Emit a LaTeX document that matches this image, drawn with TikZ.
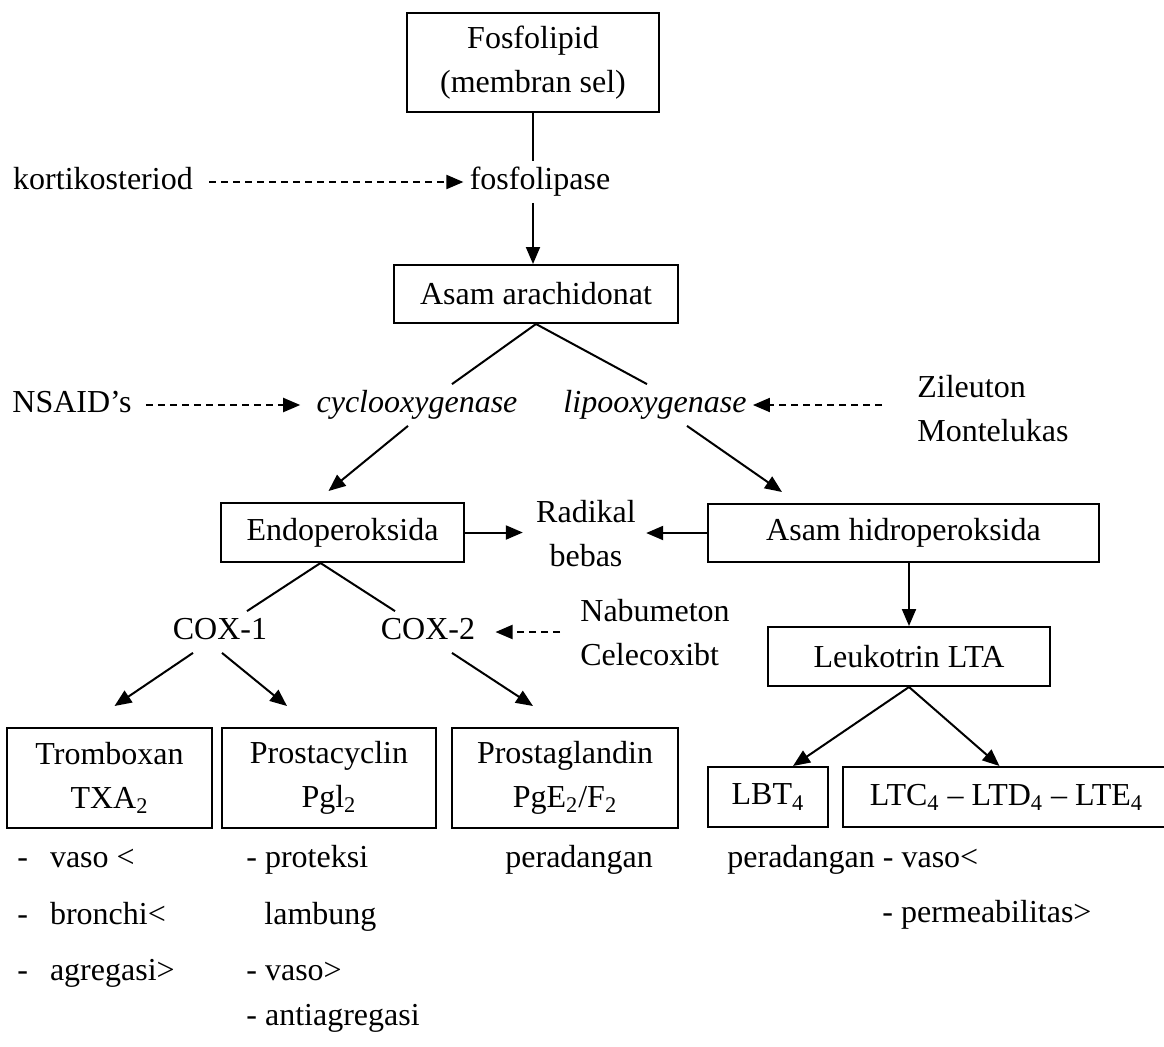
\documentclass[tikz,border=0pt]{standalone}
\usepackage{fontspec}
\setmainfont{Liberation Serif}
\usetikzlibrary{arrows.meta}

\tikzset{
  box/.style={draw, line width=1pt, inner sep=0pt, align=center},
  txt/.style={inner sep=3pt, text height=11pt, text depth=3.5pt},
  lines/.style={inner sep=3pt, align=left},
  note/.style={anchor=west, inner sep=0pt, text height=11pt, text depth=3.5pt},
  link/.style={line width=1pt},
  arr/.style={link, -{Triangle[length=8.5pt,width=7pt]}},
  inhib/.style={arr, dash pattern=on 3.5pt off 2.5pt},
}

\begin{document}
\begin{tikzpicture}[x=0.5pt, y=-0.5pt, font=\fontsize{16}{22}\selectfont]
    \useasboundingbox (0,0) rectangle (1164,1046);

    % Fosfolipid -> Asam arachidonat
    \node[box, minimum width=126pt, minimum height=49.5pt] (fosfo) at (533,62.5) {Fosfolipid\\(membran sel)};
    \node[txt] (lipase) at (540,182) {fosfolipase};
    \node[txt] (korti) at (103,182) {kortikosteriod};
    \node[box, minimum width=142pt, minimum height=29pt] (arach) at (536,294) {Asam arachidonat};
    \draw[link] (fosfo.south) -- (fosfo.south |- lipase.north);
    \draw[arr] (fosfo.south |- lipase.south) -- (fosfo.south |- arach.north);
    \draw[inhib, shorten <=5pt] (korti) -- (lipase);

    % enzymes
    \node[txt] (nsaid) at (72,405) {NSAID’s};
    \node[txt] (cyclo) at (417,405) {\itshape cyclooxygenase};
    \node[txt] (lipo) at (655,405) {\itshape lipooxygenase};
    \node[lines, anchor=west] (zil) at (911,409) {Zileuton\\Montelukas};
    \draw[link] (arach.south) -- ([xshift=17.5pt]cyclo.north);
    \draw[link] (arach.south) -- ([xshift=-4pt]lipo.north);
    \draw[inhib, shorten <=4pt, shorten >=5pt] (nsaid) -- (cyclo);
    \draw[inhib, shorten <=14.5pt] (zil.west |- lipo.east) -- (lipo.east);

    % Endoperoksida / Asam hidroperoksida
    \node[box, minimum width=121.5pt, minimum height=29.5pt] (endo) at (342.5,532.5) {Endoperoksida};
    \node[box, minimum width=195.5pt, minimum height=29pt] (hidro) at (903.5,533) {Asam hidroperoksida};
    \node[lines, align=center] (radikal) at (586,534) {Radikal\\bebas};
    \draw[arr] ([xshift=-4.5pt]cyclo.south) -- ([xshift=-7pt,yshift=5.5pt]endo.north);
    \draw[arr] ([xshift=16pt]lipo.south) -- ([xshift=37.5pt,yshift=5.5pt]hidro.north west);
    \draw[arr, shorten >=3.5pt] (endo.east) -- (endo.east -| radikal.west);
    \draw[arr, shorten >=2pt] (hidro.west) -- (hidro.west -| radikal.east);

    % COX and leukotrin
    \node[txt] (cox1) at (220,632) {COX-1};
    \node[txt] (cox2) at (428,632) {COX-2};
    \node[lines, anchor=west] (nabu) at (574,633) {Nabumeton\\Celecoxibt};
    \node[box, minimum width=141pt, minimum height=29.5pt] (leuko) at (909,656.5) {Leukotrin LTA};
    \draw[link] ([xshift=-11pt]endo.south) -- ([xshift=13.5pt]cox1.north);
    \draw[link] ([xshift=-11pt]endo.south) -- ([xshift=-16.5pt]cox2.north);
    \draw[inhib, shorten <=7pt, shorten >=7pt] (nabu.west |- cox2.east) -- (cox2.east);
    \draw[arr] (leuko.north |- hidro.south) -- (leuko.north);

    % products
    \node[box, minimum width=102.5pt, minimum height=50pt] (tromb) at (109.5,778) {Tromboxan\\TXA\textsubscript{2}};
    \node[box, minimum width=107pt, minimum height=50pt] (prosta) at (329,778) {Prostacyclin\\Pgl\textsubscript{2}};
    \node[box, minimum width=113pt, minimum height=50pt] (glandin) at (565,778) {Prostaglandin\\PgE\textsubscript{2}/F\textsubscript{2}};
    \node[box, minimum width=60pt, minimum height=30pt] (lbt) at (768,797) {LBT\textsubscript{4}};
    \node[box, minimum width=163.5pt, minimum height=30pt] (ltc) at (1006.5,797) {LTC\textsubscript{4} -- LTD\textsubscript{4} -- LTE\textsubscript{4}};
    \draw[arr] ([xshift=-13.5pt]cox1.south) -- ([xshift=2.5pt,yshift=10.5pt]tromb.north);
    \draw[arr] ([xshift=1pt]cox1.south) -- ([xshift=-21pt,yshift=10.5pt]prosta.north);
    \draw[arr] ([xshift=12pt]cox2.south) -- ([xshift=-16pt,yshift=10.5pt]glandin.north);
    \draw[arr] (leuko.south) -- ([xshift=12.5pt]lbt.north);
    \draw[arr] (leuko.south) -- ([xshift=-3.5pt]ltc.north);

    % effects
    \node[note] (n1) at (17,860) {-\hspace{11pt}vaso <};
    \node[note] (n2) at (17,917) {-\hspace{11pt}bronchi<};
    \node[note] (n3) at (17,973) {-\hspace{11pt}agregasi>};
    \node[note] (n4) at (246,860) {- proteksi};
    \node[note] (n5) at (264,917) {lambung};
    \node[note] (n6) at (246,973) {- vaso>};
    \node[note] (n7) at (246,1018) {- antiagregasi};
    \node[note] (n8) at (505,860) {peradangan};
    \node[note] (n9) at (727,860) {peradangan - vaso<};
    \node[note] (n10) at (882,915) {- permeabilitas>};
\end{tikzpicture}
\end{document}
